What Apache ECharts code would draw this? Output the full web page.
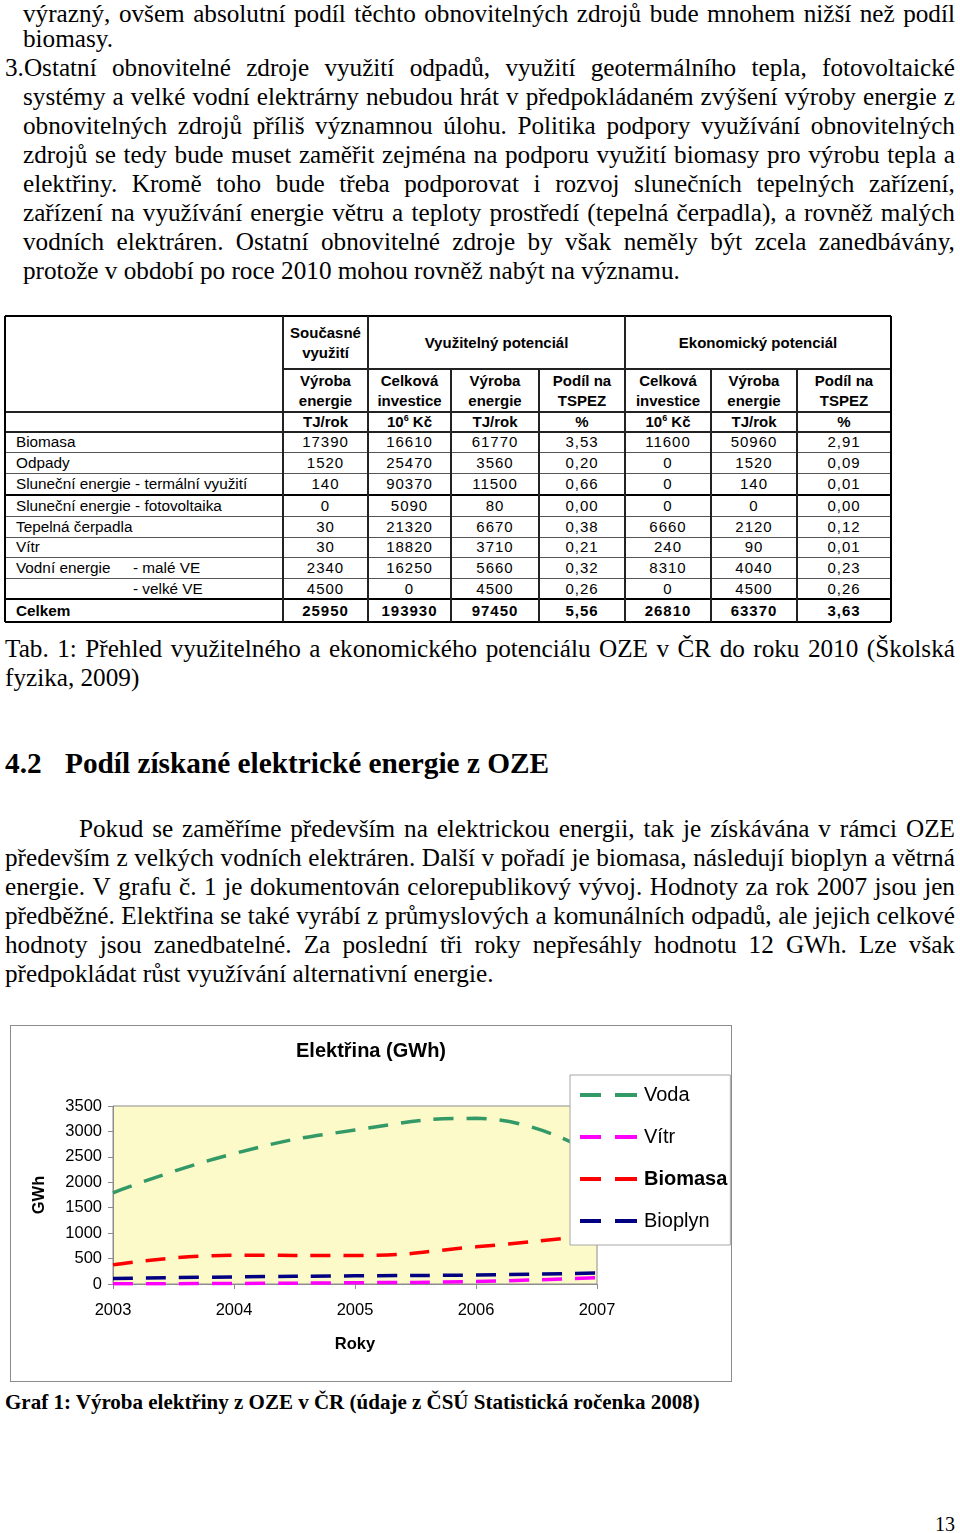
<!DOCTYPE html>
<html><head><meta charset="utf-8">
<script src="https://cdn.jsdelivr.net/npm/echarts@6/dist/echarts.min.js"></script>
<style>
html,body{margin:0;padding:0;background:#fff;}
body{width:960px;height:1533px;position:relative;overflow:hidden;}
.t{position:absolute;font-family:'Liberation Serif','Times New Roman',serif;font-size:25.2px;line-height:29px;color:#000;white-space:nowrap;}
.jl{display:flex;justify-content:space-between;}
.tc{position:absolute;font-family:'Liberation Sans',Arial,sans-serif;font-size:15px;color:#000;display:flex;align-items:center;justify-content:center;text-align:center;line-height:20px;white-space:nowrap;}
.lab{font-size:15.3px;}
.num{letter-spacing:1px;}
.b{font-weight:bold;}
.ln{position:absolute;background:#222;}
#frame{position:absolute;left:10px;top:1025px;width:720px;height:355px;border:1.5px solid #8c8c8c;}
#chart{position:absolute;left:11px;top:1026px;width:720px;height:355px;}
</style></head>
<body>
<div id="frame"></div>
<div id="chart"></div>
<script>
// ---------- chart data ----------
const years   = ['2003','2004','2005','2006','2007'];
const voda    = [1794, 2563, 3027, 3257, 2524];
const vitr    = [5, 10, 25, 50, 125];
const biomasa = [376, 564, 560, 731, 968];
const bioplyn = [110, 139, 161, 176, 215];
const yTicks  = [0, 3500, 500]; // min, max, interval

// ---------- table data ----------
const rowLabels   = ['Biomasa','Odpady','Sluneční energie - termální využití','Sluneční energie - fotovoltaika','Tepelná čerpadla','Vítr','Vodní energie','','Celkem'];
const rowSubLabel = ['','','','','','','- malé VE','- velké VE',''];
const soucVyroba  = [17390,1520,140,0,30,30,2340,4500,25950];
const vyuzInvest  = [16610,25470,90370,5090,21320,18820,16250,0,193930];
const vyuzVyroba  = [61770,3560,11500,80,6670,3710,5660,4500,97450];
const vyuzPodil   = [3.53,0.20,0.66,0.00,0.38,0.21,0.32,0.26,5.56];
const ekoInvest   = [11600,0,0,0,6660,240,8310,0,26810];
const ekoVyroba   = [50960,1520,140,0,2120,90,4040,4500,63370];
const ekoPodil    = [2.91,0.09,0.01,0.00,0.12,0.01,0.23,0.26,3.63];

// ---------- page text ----------
const para1 = [
 'výrazný, ovšem absolutní podíl těchto obnovitelných zdrojů bude mnohem nižší než podíl',
 'biomasy.',
 '3.Ostatní obnovitelné zdroje využití odpadů, využití geotermálního tepla, fotovoltaické',
 'systémy a velké vodní elektrárny nebudou hrát v předpokládaném zvýšení výroby energie z',
 'obnovitelných zdrojů příliš významnou úlohu. Politika podpory využívání obnovitelných',
 'zdrojů se tedy bude muset zaměřit zejména na podporu využití biomasy pro výrobu tepla a',
 'elektřiny. Kromě toho bude třeba podporovat i rozvoj slunečních tepelných zařízení,',
 'zařízení na využívání energie větru a teploty prostředí (tepelná čerpadla), a rovněž malých',
 'vodních elektráren. Ostatní obnovitelné zdroje by však neměly být zcela zanedbávány,',
 'protože v období po roce 2010 mohou rovněž nabýt na významu.'
];
const tabCaption = ['Tab. 1: Přehled využitelného a ekonomického potenciálu OZE v ČR do roku 2010 (Školská','fyzika, 2009)'];
const headingNum = '4.2';
const headingText = 'Podíl získané elektrické energie z OZE';
const para2 = [
 'Pokud se zaměříme především na elektrickou energii, tak je získávána v rámci OZE',
 'především z velkých vodních elektráren. Další v pořadí je biomasa, následují bioplyn a větrná',
 'energie. V grafu č. 1 je dokumentován celorepublikový vývoj. Hodnoty za rok 2007 jsou jen',
 'předběžné. Elektřina se také vyrábí z průmyslových a komunálních odpadů, ale jejich celkové',
 'hodnoty jsou zanedbatelné. Za poslední tři roky nepřesáhly hodnotu 12 GWh. Lze však',
 'předpokládat růst využívání alternativní energie.'
];
const grafCaption = 'Graf 1: Výroba elektřiny z OZE v ČR (údaje z ČSÚ Statistická ročenka 2008)';
const pageNum = '13';

const RIGHT = 955;
function esc(s){return s.replace(/&/g,'&amp;').replace(/</g,'&lt;');}
function textLine(text, x, top, justify, extraCls, fs, lh){
  const d = document.createElement('div');
  d.className = 't' + (extraCls ? ' ' + extraCls : '');
  d.style.left = x + 'px';
  d.style.top = top + 'px';
  if (fs) d.style.fontSize = fs + 'px';
  if (lh) d.style.lineHeight = lh + 'px';
  if (justify) {
    d.classList.add('jl');
    d.style.width = (RIGHT - x) + 'px';
    d.innerHTML = text.split(' ').map(w => '<span>' + esc(w) + '</span>').join(' ');
  } else {
    d.textContent = text;
  }
  document.body.appendChild(d);
  return d;
}
para1.forEach((s, i) => {
  const x = (i === 2) ? 5 : 23;
  if (i === 0) textLine(s, x, 0, true, '', null, 28);
  else textLine(s, x, -5.3 + 29 * i, i !== 1 && i !== para1.length - 1);
});
textLine(tabCaption[0], 5, 633.7, true);
textLine(tabCaption[1], 5, 662.7, false);
textLine(headingNum, 5, 746, false, 'b', 29.3, 34);
textLine(headingText, 65, 746, false, 'b', 29.3, 34);
para2.forEach((s, i) => {
  const x = (i === 0) ? 79 : 5;
  textLine(s, x, 813.7 + 29 * i, i !== para2.length - 1);
});
textLine(grafCaption, 5, 1389, false, 'b', 21, 26);
textLine(pageNum, 935, 1512, false, '', 20, 24);

// ---------- table ----------
const X = [5, 283, 368, 451, 539, 625, 711, 797, 891];
const Y = [316, 369, 412, 432, 452, 473, 495, 516, 537, 557, 578, 599, 622];
function cell(html, x0, x1, y0, y1, cls, padLeft){
  const d = document.createElement('div');
  d.className = 'tc' + (cls ? ' ' + cls : '');
  d.style.left = x0 + 'px'; d.style.top = y0 + 'px';
  d.style.width = (x1 - x0) + 'px'; d.style.height = (y1 - y0) + 'px';
  if (padLeft !== undefined) { d.style.justifyContent = 'flex-start'; d.style.paddingLeft = padLeft + 'px'; d.style.boxSizing='border-box'; }
  d.innerHTML = '<span>' + html + '</span>';
  document.body.appendChild(d);
}
function hl(x0, x1, y, w, c){ const d=document.createElement('div'); d.className='ln'; d.style.left=x0+'px'; d.style.width=(x1-x0)+'px'; d.style.top=(y-w/2)+'px'; d.style.height=w+'px'; if(c) d.style.background=c; document.body.appendChild(d); }
function vl(x, y0, y1, w, c){ const d=document.createElement('div'); d.className='ln'; d.style.left=(x-w/2)+'px'; d.style.width=w+'px'; d.style.top=y0+'px'; d.style.height=(y1-y0)+'px'; if(c) d.style.background=c; document.body.appendChild(d); }

// header
cell('Současné<br>využití', X[1], X[2], Y[0], Y[1], 'b');
cell('Využitelný potenciál', X[2], X[5], Y[0], Y[1], 'b');
cell('Ekonomický potenciál', X[5], X[8], Y[0], Y[1], 'b');
const sub = ['Výroba<br>energie','Celková<br>investice','Výroba<br>energie','Podíl na<br>TSPEZ','Celková<br>investice','Výroba<br>energie','Podíl na<br>TSPEZ'];
const sup6 = '10<sup style="font-size:9px;line-height:0;vertical-align:6px">6</sup> Kč';
const units = ['TJ/rok',sup6,'TJ/rok','%',sup6,'TJ/rok','%'];
sub.forEach((s, k) => cell(s, X[k+1], X[k+2], Y[1], Y[2], 'b'));
units.forEach((s, k) => cell(s, X[k+1], X[k+2], Y[2], Y[3], 'b'));
const fmtInt = v => String(v);
const fmtPct = v => v.toFixed(2).replace('.', ',');
const cols = [[soucVyroba,fmtInt],[vyuzInvest,fmtInt],[vyuzVyroba,fmtInt],[vyuzPodil,fmtPct],[ekoInvest,fmtInt],[ekoVyroba,fmtInt],[ekoPodil,fmtPct]];
rowLabels.forEach((lab, r) => {
  const y0 = Y[r+3], y1 = Y[r+4];
  const bold = (r === rowLabels.length - 1) ? ' b' : '';
  if (lab) cell(esc(lab), X[0], X[1], y0, y1, 'lab' + bold, 11);
  if (rowSubLabel[r]) cell(esc(rowSubLabel[r]), 133, X[1], y0, y1, 'lab', 0);
  cols.forEach(([arr, f], k) => cell(f(arr[r]), X[k+1], X[k+2], y0, y1, 'num' + bold));
});
// lines
hl(X[0], X[8], Y[0], 2, '#000');
hl(X[1], X[8], Y[1], 1.3);
hl(X[0], X[8], Y[2], 1.3);
hl(X[0], X[8], Y[3], 1.3);
for (let r = 4; r < Y.length - 1; r++) {
  const thick = (r === 6 || r === 11);
  hl(X[0], X[8], Y[r], thick ? 2 : 1, thick ? '#000' : '#555');
}
hl(X[0], X[8], Y[Y.length-1], 2, '#000');
vl(X[0], Y[0], Y[Y.length-1], 2, '#000');
vl(X[8], Y[0], Y[Y.length-1], 2, '#000');
[1,2,5].forEach(k => vl(X[k], Y[0], Y[Y.length-1], 1.4, '#222'));
[3,4,6,7].forEach(k => vl(X[k], Y[1], Y[Y.length-1], 1.4, '#222'));

// ---------- chart ----------
const chart = echarts.init(document.getElementById('chart'), null, {renderer:'canvas'});
const FONT = "'Liberation Sans', Arial, sans-serif";
const dash = [20, 13];
function ser(name, data, color){
  return {name, type:'line', data, smooth:true, symbol:'none', showSymbol:false,
    lineStyle:{color, width:3.5, type:dash, cap:'butt'}, itemStyle:{color}, z:2};
}
chart.setOption({
  animation:false,
  backgroundColor:'transparent',
  title:{text:'Elektřina (GWh)', left:'center', top:10, textStyle:{fontFamily:FONT, fontSize:20, fontWeight:'bold', color:'#000'}},
  grid:{left:102, top:80, width:484, height:178, show:true, backgroundColor:'#FDFACA', borderColor:'#8c8c8c', borderWidth:1},
  legend:{orient:'vertical', left:559, top:49, itemWidth:57, itemHeight:4, itemGap:22,
    icon:'path://M0,0h21v4h-21zM35,0h22v4h-22z',
    padding:[10,3,14,10], backgroundColor:'#fff', borderColor:'#a6a6a6', borderWidth:1, z:10,
    textStyle:{fontFamily:FONT, fontSize:20, color:'#000', padding:[0,0,0,2], rich:{b:{fontFamily:FONT, fontSize:20, fontWeight:'bold', color:'#000'}}},
    formatter: n => n === 'Biomasa' ? '{b|' + n + '}' : n,
    data:['Voda','Vítr','Biomasa','Bioplyn']},
  xAxis:{type:'category', data:years, boundaryGap:false,
    name:'Roky', nameLocation:'middle', nameGap:52, nameTextStyle:{fontFamily:FONT, fontSize:16.5, fontWeight:'bold', color:'#000'},
    axisLine:{lineStyle:{color:'#8c8c8c', width:1}}, axisTick:{show:true, length:5, lineStyle:{color:'#8c8c8c'}},
    axisLabel:{fontFamily:FONT, fontSize:16.5, color:'#000', margin:18}, splitLine:{show:false}},
  yAxis:{type:'value', min:yTicks[0], max:yTicks[1], interval:yTicks[2],
    name:'GWh', nameLocation:'middle', nameGap:65, nameRotate:90, nameTextStyle:{fontFamily:FONT, fontSize:16.5, fontWeight:'bold', color:'#000'},
    axisLine:{show:true, lineStyle:{color:'#8c8c8c', width:1}}, axisTick:{show:true, length:5, lineStyle:{color:'#8c8c8c'}},
    axisLabel:{fontFamily:FONT, fontSize:16.5, color:'#000', margin:11, formatter: v => String(v)}, splitLine:{show:false}},
  series:[
    ser('Voda', voda, '#339966'),
    ser('Vítr', vitr, '#FF00FF'),
    ser('Biomasa', biomasa, '#FF0000'),
    ser('Bioplyn', bioplyn, '#000080')
  ]
});
</script>
</body></html>
